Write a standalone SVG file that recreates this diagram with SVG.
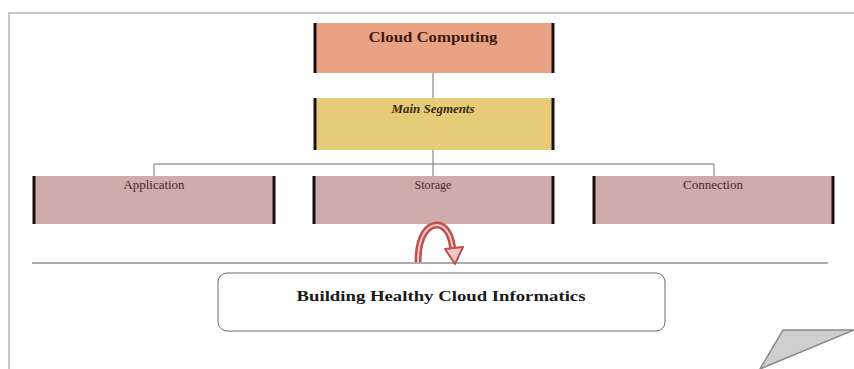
<svg xmlns="http://www.w3.org/2000/svg" width="854" height="369" viewBox="0 0 854 369">
<style>
.frame{stroke:#c8c8c8;stroke-width:2;fill:none}
.side{stroke:#1a1010;stroke-width:3}
.conn{stroke:#707070;stroke-width:1;fill:none}
.t{font-family:"Liberation Serif",serif;text-anchor:middle}
.lbl{font-size:12.5px;fill:#4a2a2a}
.sub{fill:#cfabab}
</style>
<rect width="854" height="369" fill="#ffffff"/>
<path class="frame" d="M9 369 V13 H854"/>
<g id="connectors">
<path class="conn" d="M433 73 V98"/>
<path class="conn" d="M433 150 V164 M154 176 V164 H714 V176 M433 164 V176"/>
<path d="M32 263 H828" stroke="#909090" stroke-width="1.5"/>
</g>
<g id="cloud">
<rect x="314" y="23" width="240" height="50" fill="#e9a283"/>
<path class="side" d="M315 23 V73 M553 23 V73"/>
<text class="t" x="433" y="42" font-size="15" font-weight="bold" fill="#3d1a12" textLength="129" lengthAdjust="spacingAndGlyphs">Cloud Computing</text>
</g>
<g id="segments">
<rect x="314" y="98" width="240" height="52" fill="#e6cc78"/>
<path class="side" d="M315 98 V150 M553 98 V150"/>
<text class="t" x="433" y="113" font-size="12" font-weight="bold" font-style="italic" fill="#3a2a10" textLength="83" lengthAdjust="spacingAndGlyphs">Main Segments</text>
</g>
<g id="application">
<rect class="sub" x="33" y="176" width="242" height="48"/>
<path class="side" d="M34 176 V224 M274 176 V224"/>
<text class="t lbl" x="154" y="189" textLength="61" lengthAdjust="spacingAndGlyphs">Application</text>
</g>
<g id="storage">
<rect class="sub" x="313" y="176" width="241" height="48"/>
<path class="side" d="M314 176 V224 M553 176 V224"/>
<text class="t lbl" x="433" y="189" textLength="37" lengthAdjust="spacingAndGlyphs">Storage</text>
</g>
<g id="connection">
<rect class="sub" x="593" y="176" width="241" height="48"/>
<path class="side" d="M594 176 V224 M833 176 V224"/>
<text class="t lbl" x="713" y="189" textLength="60" lengthAdjust="spacingAndGlyphs">Connection</text>
</g>
<g id="arrow">
<path d="M418 262 C418 235 428 225 437 225 C446 225 452 236 453 252" fill="none" stroke="#c0504d" stroke-width="7"/>
<path d="M418 262 C418 235 428 225 437 225 C446 225 452 236 453 252" fill="none" stroke="#f0c8c8" stroke-width="2"/>
<path d="M445 249 L463 247 L455 264 Z" fill="#f0c8c8" stroke="#c0504d" stroke-width="2" stroke-linejoin="round"/>
</g>
<g id="result">
<rect x="218" y="273" width="447" height="58" rx="9" fill="#ffffff" stroke="#6a6a6a" stroke-width="1"/>
<text class="t" x="441" y="301" font-size="15" font-weight="bold" fill="#1a1a1a" font-family="DejaVu Serif, serif" textLength="289" lengthAdjust="spacingAndGlyphs">Building Healthy Cloud Informatics</text>
</g>
<g id="curl">
<path d="M760 369 L783 330 L854 330 Z" fill="#cfcfcf" stroke="#8a8a8a" stroke-width="1.5" stroke-linejoin="round"/>
</g>
</svg>
